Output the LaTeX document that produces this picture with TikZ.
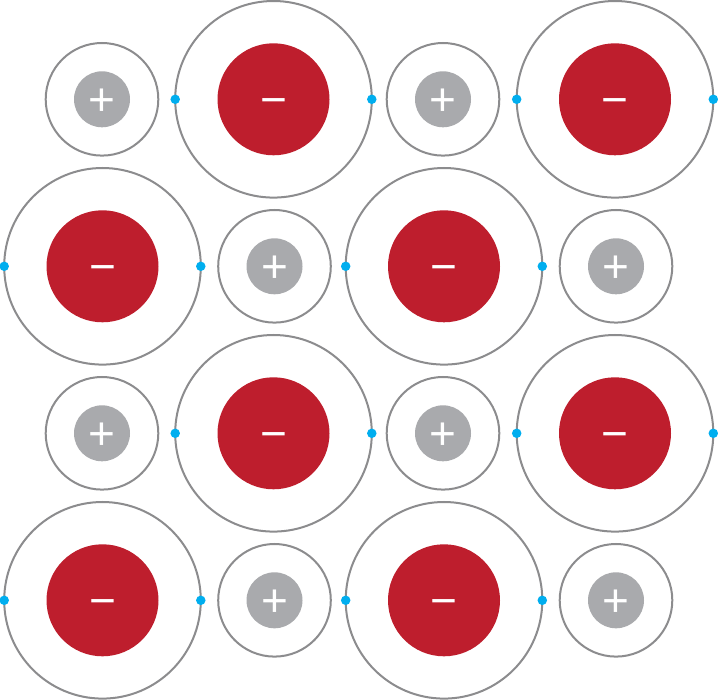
\documentclass[tikz,border=0pt]{standalone}
\usepackage{fontspec}
\setmainfont{Liberation Sans}
\definecolor{ringgray}{HTML}{8C8C8E}
\definecolor{posgray}{HTML}{A9AAAD}
\definecolor{negred}{HTML}{BE1E2D}
\definecolor{dotblue}{HTML}{00AEEF}
\newcommand{\chargemark}[1]{\smash{\raisebox{-0.35em}{#1}}}
\tikzset{
  x=1pt,y=-1pt,
  ringbase/.style={circle,draw=ringgray,line width=2pt,fill=white,inner sep=0pt,outer sep=0pt},
  cationring/.style={ringbase,minimum size=112.6pt},
  anionring/.style={ringbase,minimum size=196.6pt},
  cationcore/.style={circle,fill=posgray,draw=none,inner sep=0pt,minimum size=56pt,text=white,font=\fontsize{46}{46}\selectfont},
  anioncore/.style={circle,fill=negred,draw=none,inner sep=0pt,minimum size=112pt,text=white,font=\fontsize{46}{46}\selectfont},
  electron/.style={circle,fill=dotblue,draw=none,inner sep=0pt,minimum size=9.5pt},
}
\newcommand{\cation}[3]{%
  \node[cationring] (ring#1) at (#2,#3) {};
  \node[cationcore] (core#1) at (#2,#3) {\chargemark{+}};
}
\newcommand{\anion}[3]{%
  \node[anionring] (ring#1) at (#2,#3) {};
  \node[anioncore] (core#1) at (#2,#3) {\chargemark{−}};
  \node[electron] (west#1) at (ring#1.west) {};
  \node[electron] (east#1) at (ring#1.east) {};
}
\begin{document}
\begin{tikzpicture}
\useasboundingbox (0,0) rectangle (718,700);
\cation{a}{102}{99.3}
\anion{b}{273.5}{99.3}
\cation{c}{443}{99.3}
\anion{d}{615}{99.3}
\anion{e}{102.5}{266.3}
\cation{f}{274.5}{266.3}
\anion{g}{444}{266.3}
\cation{h}{616}{266.3}
\cation{i}{102}{433.3}
\anion{j}{273.5}{433.3}
\cation{k}{443}{433.3}
\anion{l}{615}{433.3}
\anion{m}{102.5}{600.3}
\cation{n}{274.5}{600.3}
\anion{o}{444}{600.3}
\cation{p}{616}{600.3}
\end{tikzpicture}
\end{document}
